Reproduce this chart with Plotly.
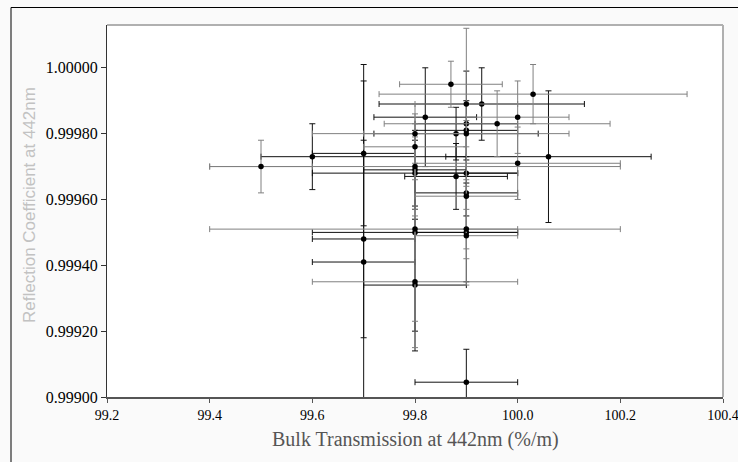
import plotly.graph_objects as go

# Bulk transmission (%/m) and reflection coefficient at 442 nm, with uncertainties
bulk_trans = [99.50, 99.60, 99.70, 99.70, 99.70,
              99.80, 99.80, 99.80, 99.80, 99.80, 99.80, 99.80, 99.80, 99.80,
              99.90, 99.90, 99.90, 99.90, 99.90, 99.90, 99.90, 99.90, 99.90, 99.90, 99.90,
              99.82, 99.87, 99.88, 99.88, 99.93, 99.96, 100.00, 100.00, 100.03, 100.06]
refl_coef = [0.99970, 0.99973, 0.99974, 0.99948, 0.99941,
             0.99980, 0.99976, 0.99970, 0.99969, 0.99968, 0.99951, 0.99950, 0.99935, 0.99934,
             0.99989, 0.99983, 0.99981, 0.99980, 0.99968, 0.99962, 0.99961, 0.99951, 0.99950, 0.99949, 0.999045,
             0.99985, 0.99995, 0.99980, 0.99967, 0.99989, 0.99983, 0.99985, 0.99971, 0.99992, 0.99973]
trans_err_minus = [0.10, 0.10, 0.10, 0.10, 0.10,
                   0.20, 0.10, 0.40, 0.10, 0.20, 0.40, 0.20, 0.20, 0.10,
                   0.10, 0.10, 0.10, 0.20, 0.10, 0.10, 0.10, 0.10, 0.10, 0.10, 0.10,
                   0.10, 0.10, 0.16, 0.10, 0.20, 0.22, 0.10, 0.20, 0.30, 0.20]
trans_err_plus = [0.10, 0.30, 0.10, 0.10, 0.10,
                  0.20, 0.10, 0.40, 0.10, 0.20, 0.40, 0.20, 0.20, 0.10,
                  0.10, 0.10, 0.10, 0.20, 0.10, 0.10, 0.10, 0.10, 0.10, 0.10, 0.10,
                  0.10, 0.10, 0.16, 0.10, 0.20, 0.22, 0.10, 0.20, 0.30, 0.20]
refl_err = [0.00008, 0.00010, 0.00022, 0.00030, 0.00060,
            0.00009, 0.00010, 0.00013, 0.00012, 0.00010, 0.00028, 0.00030, 0.00020, 0.00020,
            0.00023, 0.00016, 0.00009, 0.00004, 0.00013, 0.00011, 0.00019, 0.00006, 0.00015, 0.00015, 0.00010,
            0.00015, 0.00007, 0.00008, 0.00010, 0.00011, 0.00010, 0.00011, 0.00011, 0.00009, 0.00020]

x_ticks = [99.2, 99.4, 99.6, 99.8, 100.0, 100.2, 100.4]
y_ticks = [0.99900, 0.99920, 0.99940, 0.99960, 0.99980, 1.00000]

# error-bar shade per measurement (dark or mid grey)
bar_shade = ["g", "b", "b", "b", "b",
             "g", "g", "g", "b", "b", "g", "b", "g", "b",
             "g", "b", "b", "g", "b", "b", "g", "g", "b", "g", "b",
             "b", "g", "b", "b", "b", "g", "g", "g", "g", "b"]
shade_colors = {"b": "#111111", "g": "#808080"}

fig = go.Figure()
for key, col in shade_colors.items():
    idx = [i for i, s in enumerate(bar_shade) if s == key]
    fig.add_trace(go.Scatter(
        x=[bulk_trans[i] for i in idx],
        y=[refl_coef[i] for i in idx],
        mode="markers",
        marker=dict(color="black", size=5.5),
        error_x=dict(type="data", symmetric=False,
                     array=[trans_err_plus[i] for i in idx],
                     arrayminus=[trans_err_minus[i] for i in idx],
                     color=col, thickness=1, width=3),
        error_y=dict(type="data", array=[refl_err[i] for i in idx],
                     color=col, thickness=1, width=3),
        showlegend=False,
        cliponaxis=True,
    ))

W, H = 738, 462
ml, mr, mt, mb = 107, 15, 25, 65
pw, ph = W - ml - mr, H - mt - mb


def px_x(px):
    return (px - ml) / pw


def px_y(py):
    return (H - mb - py) / ph


fig.update_layout(
    width=W, height=H,
    margin=dict(l=ml, r=mr, t=mt, b=mb),
    paper_bgcolor="#fafafa",
    plot_bgcolor="white",
    xaxis=dict(range=[99.2, 100.4], tickvals=x_ticks,
               ticktext=[f"{v:.1f}" for v in x_ticks],
               ticklabeloverflow="allow", automargin=False,
               showgrid=False, zeroline=False,
               showline=True, linecolor="#555555", linewidth=2,
               ticks="outside", ticklen=4, tickcolor="#555555",
               tickfont=dict(family="Liberation Serif", size=14, color="black")),
    yaxis=dict(range=[0.999, 1.00013], tickvals=y_ticks,
               ticktext=[f"{v:.5f}" for v in y_ticks],
               automargin=False,
               showgrid=False, zeroline=False,
               showline=True, linecolor="#333333", linewidth=1,
               ticks="outside", ticklen=5, tickcolor="#333333",
               tickfont=dict(family="Liberation Serif", size=16, color="black")),
    shapes=[
        # plot frame (top and right edges)
        dict(type="line", xref="paper", yref="paper", x0=0, y0=1, x1=1, y1=1,
             line=dict(color="#b0b0b0", width=2)),
        dict(type="line", xref="paper", yref="paper", x0=1, y0=0, x1=1, y1=1,
             line=dict(color="#b0b0b0", width=2)),
        # outer chart border
        dict(type="rect", xref="paper", yref="paper",
             x0=px_x(11), y0=px_y(470), x1=px_x(745), y1=px_y(7.5),
             line=dict(color="black", width=1), fillcolor="rgba(0,0,0,0)"),
    ],
    annotations=[
        dict(text="Bulk Transmission at 442nm (%/m)", xref="paper", yref="paper",
             x=0.5, y=px_y(440), xanchor="center", yanchor="middle", showarrow=False,
             font=dict(family="Liberation Serif", size=20, color="#555555")),
        dict(text="Reflection Coefficient at 442nm", xref="paper", yref="paper",
             x=px_x(29), y=px_y(205), xanchor="center", yanchor="middle", showarrow=False,
             textangle=-90,
             font=dict(family="Liberation Sans", size=17, color="#c2c2c2")),
    ],
)

fig.write_html("out.html")
